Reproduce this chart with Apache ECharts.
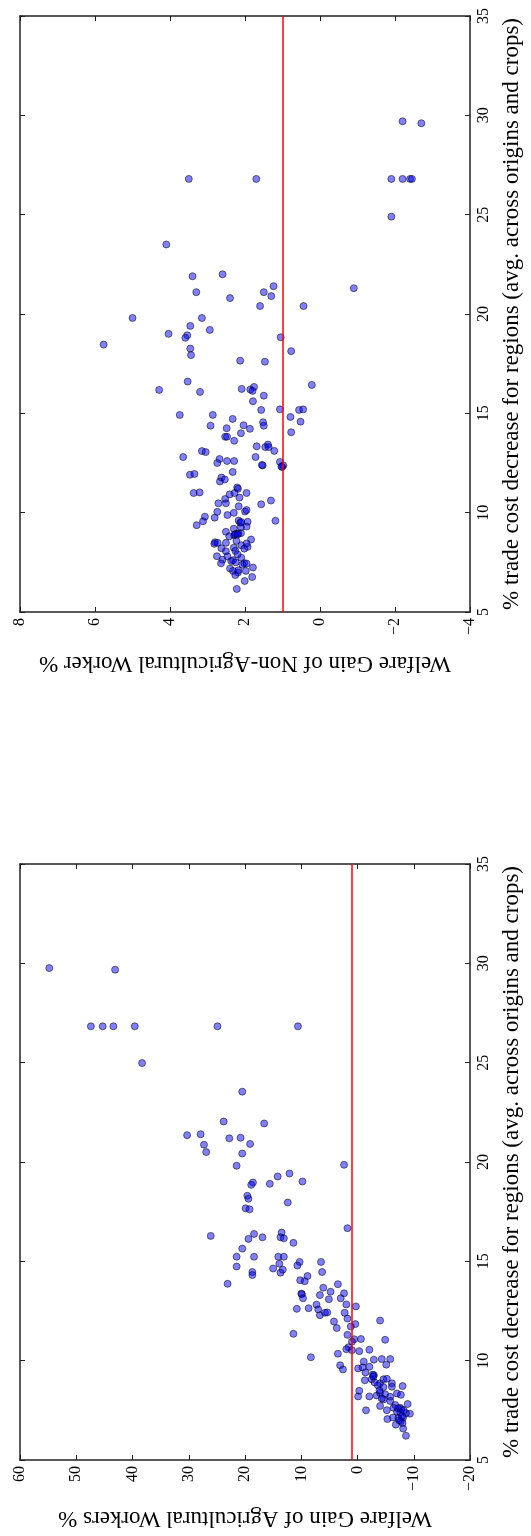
<!DOCTYPE html>
<html>
<head>
<meta charset="utf-8">
<script src="https://cdn.jsdelivr.net/npm/echarts@6/dist/echarts.min.js"></script>
<style>
  html, body { margin: 0; padding: 0; background: #fff; }
  #chart { width: 531px; height: 1536px; }
</style>
</head>
<body>
<div id="chart"></div>
<script>
// Each point: [trade cost decrease %, welfare gain %]
const nonAgriPoints = [
  [29.7,-2.2],[29.6,-2.7],[26.8,3.5],[26.8,1.7],[26.8,-1.9],[26.8,-2.2],[26.8,-2.4],[26.8,-2.45],
  [24.9,-1.9],[23.5,4.1],[21.9,3.4],[22.0,2.6],[21.4,1.24],[21.3,-0.9],[21.1,3.3],[21.1,1.5],
  [20.8,2.4],[20.9,1.3],[20.4,1.6],[20.4,0.44],[19.8,5.0],[19.8,3.15],
  [19.4,3.46],[19.2,2.94],[19.0,4.04],[18.93,3.54],[18.8,3.59],[18.83,1.05],[18.46,5.77],
  [18.26,3.46],[17.93,3.44],[18.13,0.77],[17.65,2.13],[17.6,1.47],[16.6,3.53],[16.18,4.29],
  [16.08,3.2],[16.23,2.09],[16.2,1.86],[16.33,1.76],[16.13,1.8],[16.43,0.22],[15.89,1.5],
  [15.61,1.79],[14.92,3.74],[15.17,1.57],[15.2,1.07],[15.17,0.56],[15.2,0.45],[14.92,2.86],
  [14.72,2.33],[14.82,0.79],[14.38,2.92],[14.25,2.49],[14.4,2.04],[14.22,1.87],[14.55,1.52],
  [14.38,1.5],[14.58,0.52],[14.0,2.11],[13.82,2.53],[13.82,2.48],[13.62,2.29],[14.05,0.77],
  [13.34,1.69],[13.43,1.39],[13.3,1.46],[13.3,1.37],[13.11,1.22],[13.1,3.15],[13.05,3.05],
  [12.8,3.65],[12.7,2.68],[12.5,2.74],[12.6,2.48],[12.6,2.29],[12.8,1.72],[12.38,1.53],
  [12.4,1.55],[12.55,1.07],[12.3,1.01],[12.38,0.98],[12.32,1.03],[11.91,3.47],[11.95,3.35],
  [12.05,2.33],[11.77,2.63],[11.57,2.67],[11.67,2.54],[11.27,2.21],[11.2,2.19],[10.99,3.37],
  [11.02,3.21],[10.92,2.41],[10.99,2.28],[10.99,1.96],[10.76,2.15],[10.69,2.53],[10.47,2.71],
  [10.47,2.51],[10.61,1.31],[10.42,1.57],[10.32,2.17],[10.04,2.74],[9.99,2.3],[10.06,2.0],
  [10.13,1.96],[9.88,2.47],[9.8,3.07],[9.75,2.81],[9.57,3.12],[9.37,3.29],[9.59,1.19],
  [9.6,2.17],[9.49,2.13],[9.54,1.93],[9.3,1.96],[9.27,2.11],[9.04,2.51],[9.19,2.3],
  [8.94,2.24],[8.86,2.29],[8.9,2.27],[8.97,2.11],[8.81,2.42],[8.51,2.8],[8.43,2.82],
  [8.48,2.51],[8.58,2.23],[8.65,1.84],[8.36,2.1],[8.28,1.93],[8.21,2.63],[8.24,2.3],
  [8.19,2.02],[8.08,2.26],[8.06,2.51],[7.81,2.75],[7.8,2.47],[7.73,2.1],[7.63,2.6],
  [7.57,2.37],[7.45,2.64],[7.46,2.02],[7.38,2.07],[7.24,1.79],[7.19,2.4],[7.07,2.32],
  [6.99,2.19],[7.07,1.98],[6.86,2.26],[6.76,1.81],[6.56,2.01],[6.16,2.22],
  [8.95,2.18],[8.45,1.96],[7.61,2.32],[7.44,1.96],[7.1,2.18],[8.48,2.73],[9.53,2.1],
  [8.9,2.2],[7.9,2.2],[7.5,2.25]
];

const agriPoints = [
  [29.76,54.8],[29.68,43.1],[26.83,47.4],[26.83,45.3],[26.83,43.4],[26.83,39.6],[26.83,24.9],
  [26.83,10.6],[24.98,38.3],[23.54,20.5],[22.04,23.8],[21.94,16.6],[21.35,30.3],[21.4,27.9],
  [21.19,22.8],[21.22,20.8],[20.87,27.3],[20.5,26.9],[20.91,19.1],[20.43,20.5],[19.81,21.5],
  [19.86,2.4],[19.42,12.1],[19.27,14.2],[18.97,18.6],[18.85,18.9],[18.9,15.6],[19.02,9.8],
  [18.3,19.6],[18.15,19.4],[17.96,12.4],[17.67,19.9],[17.62,19.2],[16.67,1.8],[16.28,26.1],
  [16.38,18.4],[16.21,16.9],[16.13,19.4],[16.45,13.5],[16.21,13.7],[16.16,13.1],[15.93,11.4],
  [15.64,20.5],[15.23,21.5],[15.23,18.4],[15.23,14.1],[15.23,13.1],[14.74,21.5],[14.64,15.0],
  [14.88,13.9],[14.58,13.3],[14.43,13.7],[14.46,18.7],[14.31,18.7],[14.97,10.3],[14.79,10.7],
  [14.97,6.5],[14.46,6.3],[14.26,8.9],[14.05,10.2],[14.0,9.4],[13.87,23.1],[13.85,3.5],
  [13.67,6.1],[13.47,4.8],[13.37,10.0],[13.35,9.9],[13.3,6.7],[13.39,2.4],[13.14,9.7],
  [13.14,3.0],[13.09,5.1],[12.82,7.3],[12.83,2.0],[12.73,0.3],[12.61,10.8],[12.64,8.7],
  [12.58,7.0],[12.29,6.7],[12.41,5.8],[12.43,5.4],[12.41,2.3],[11.97,4.2],[12.12,1.8],
  [12.02,-4.0],[11.84,0.4],[11.72,1.2],[11.64,3.7],[11.35,11.4],[11.3,1.8],[11.05,-4.9],
  [11.08,0.6],[10.96,1.0],[11.09,-0.6],[10.68,1.6],[10.58,2.0],[10.53,1.0],[10.48,-0.3],
  [10.55,-2.1],[10.35,3.5],[10.17,8.3],[10.05,-2.9],[10.08,-4.3],[10.08,-5.8],[9.95,-1.1],
  [9.77,3.1],[9.8,-5.1],[9.56,2.6],[9.61,-0.1],[9.66,-0.9],[9.69,-2.1],[9.41,-1.4],
  [9.27,-2.9],[9.3,-2.7],[9.06,-2.5],[9.01,-1.3],[8.91,-3.0],[8.86,-4.0],[9.06,-4.6],
  [9.09,-5.2],[8.86,-6.1],[8.76,-3.6],[8.67,-4.6],[8.69,-6.1],[8.72,-8.0],[8.48,-0.3],
  [8.2,-0.1],[8.2,-2.1],[8.25,-3.4],[8.38,-4.0],[8.31,-4.9],[8.18,-5.8],[8.35,-7.0],
  [8.28,-7.7],[8.05,-4.6],[7.97,-5.8],[7.72,-4.0],[7.77,-6.7],[7.82,-8.9],[7.5,-1.5],
  [7.51,-5.2],[7.63,-6.4],[7.63,-7.55],[7.43,-7.0],[7.56,-7.8],[7.33,-9.3],[7.36,-8.6],
  [7.06,-5.3],[7.14,-6.3],[7.11,-7.25],[7.14,-8.1],[6.78,-6.8],[6.95,-7.7],[6.58,-8.1],
  [6.86,-8.0],[6.22,-8.6],
  [7.6,-7.2],[7.4,-7.6],[7.2,-7.9],[8.1,-4.3],[9.2,-2.8],[8.5,-3.9],[7.0,-7.4],[7.5,-8.2]
];

const nonAgriWelfareRange = [-4, 8, 2];   // min, max, step
const agriWelfareRange = [-20, 60, 10];
const tradeRange = [5, 35, 5];
const referenceWelfare = 1;

const tradeTitle = '% trade cost decrease for regions (avg. across origins and crops)';
const nonAgriTitle = 'Welfare Gain of Non-Agricultural Worker %';
const agriTitle = 'Welfare Gain of Agricultural Workers %';

const FONT = '"Liberation Serif", "DejaVu Serif", serif';
const TICK_FONT = 16;
const TITLE_FONT = 23;
const frameLine = { show: true, onZero: false, lineStyle: { color: '#222', width: 1.5 } };
const innerTick = { show: true, inside: true, length: 5, lineStyle: { color: '#222', width: 1 } };
const minus = v => String(v).replace('-', '\u2212');

function welfareAxes(gridIndex, range, title, nameGap) {
  const common = {
    type: 'value', gridIndex, min: range[0], max: range[1], interval: range[2],
    inverse: true, splitLine: { show: false }, axisLine: frameLine, axisTick: innerTick
  };
  return [
    Object.assign({}, common, {
      position: 'bottom',
      name: title, nameLocation: 'middle', nameGap, nameRotate: 180,
      nameTextStyle: { fontFamily: FONT, fontSize: TITLE_FONT, color: '#000' },
      axisLabel: { rotate: 90, margin: 6, fontFamily: FONT, fontSize: TICK_FONT, color: '#000',
                   showMinLabel: true, showMaxLabel: true, formatter: minus }
    }),
    Object.assign({}, common, { position: 'top', axisLabel: { show: false } })
  ];
}

function tradeAxes(gridIndex) {
  const common = {
    type: 'value', gridIndex, min: tradeRange[0], max: tradeRange[1], interval: tradeRange[2],
    splitLine: { show: false }, axisLine: frameLine, axisTick: innerTick
  };
  return [
    Object.assign({}, common, {
      position: 'right',
      name: tradeTitle, nameLocation: 'middle', nameGap: 29, nameRotate: 90,
      nameTextStyle: { fontFamily: FONT, fontSize: TITLE_FONT, color: '#000' },
      axisLabel: { rotate: 90, margin: 6, fontFamily: FONT, fontSize: TICK_FONT, color: '#000',
                   showMinLabel: true, showMaxLabel: true }
    }),
    Object.assign({}, common, { position: 'left', axisLabel: { show: false } })
  ];
}

function scatterSeries(points, axisIndex) {
  return {
    type: 'scatter',
    xAxisIndex: axisIndex, yAxisIndex: axisIndex,
    data: points.map(p => [p[1], p[0]]),
    symbolSize: 7,
    itemStyle: { color: 'rgba(0,0,255,0.5)', borderColor: 'rgba(0,0,0,0.65)', borderWidth: 0.8, opacity: 1 },
    silent: true,
    markLine: {
      silent: true, symbol: 'none', label: { show: false },
      lineStyle: { color: '#ff0000', width: 1.5, type: 'solid' },
      data: [{ xAxis: referenceWelfare }]
    },
    z: 3
  };
}

const chart = echarts.init(document.getElementById('chart'), null, { renderer: 'canvas' });
chart.setOption({
  backgroundColor: '#fff',
  animation: false,
  grid: [
    { left: 20, width: 454, top: 16, height: 596 },
    { left: 20, width: 454, top: 864, height: 596 }
  ],
  xAxis: [].concat(
    welfareAxes(0, nonAgriWelfareRange, nonAgriTitle, 40),
    welfareAxes(1, agriWelfareRange, agriTitle, 47)
  ),
  yAxis: [].concat(tradeAxes(0), tradeAxes(1)),
  series: [
    scatterSeries(nonAgriPoints, 0),
    scatterSeries(agriPoints, 2)
  ]
});
</script>
</body>
</html>
